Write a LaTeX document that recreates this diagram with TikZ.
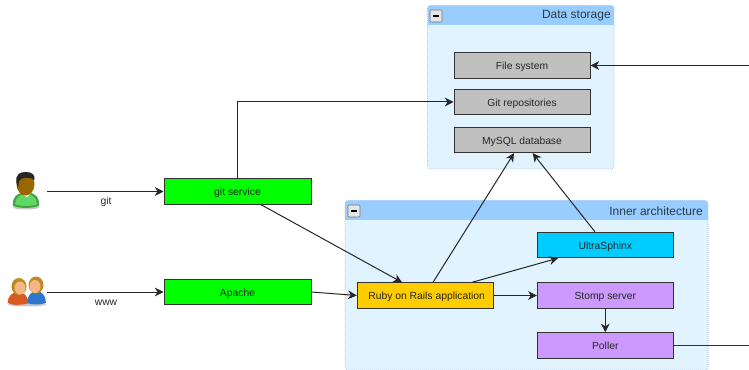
\documentclass[tikz,border=0pt]{standalone}
\usepackage{fontspec}
\setmainfont{Liberation Sans}
\usetikzlibrary{arrows.meta,calc}
\definecolor{panelfill}{HTML}{E1F3FF}
\definecolor{panelhead}{HTML}{99CCFF}
\definecolor{panelline}{HTML}{9FB4CC}
\definecolor{titletext}{HTML}{2A3A4A}
\definecolor{storegrey}{HTML}{C0C0C0}
\definecolor{webgreen}{HTML}{00FF00}
\definecolor{sphinxblue}{HTML}{00CCFF}
\definecolor{queuepurple}{HTML}{CC99FF}
\definecolor{railsorange}{HTML}{FFCC00}
\definecolor{edgeline}{HTML}{333333}
\definecolor{shirtgreen}{HTML}{62D862}
\definecolor{shirtgreendark}{HTML}{3FA53F}
\definecolor{skindark}{HTML}{9A6600}
\definecolor{shirtorange}{HTML}{D85A20}
\definecolor{shirtblue}{HTML}{2C78CC}
\definecolor{hairtan}{HTML}{C08A20}
\definecolor{skinlight}{HTML}{F4B684}
\definecolor{iconshadow}{HTML}{C8C8C8}
\tikzset{
  every node/.style={font=\fontsize{7.75pt}{9pt}\selectfont},
  svc/.style={draw=edgeline,line width=.75pt,minimum width=102pt,minimum height=19pt,inner sep=0pt,text height=6.8pt,text depth=.1pt,text=black!85},
  widesvc/.style={svc,minimum width=110.25pt},
  panelbody/.style={draw=panelline,line width=.5pt,densely dotted,fill=panelfill,rounded corners=2.2pt},
  paneltitle/.style={anchor=east,inner sep=0pt,text=titletext,font=\fontsize{9pt}{11pt}\selectfont},
  conn/.style={draw=black!85,line width=.75pt,-{Stealth[length=6.5pt,width=6.5pt,inset=2pt]}},
  plainconn/.style={draw=black!80,line width=.75pt},
  edgelabel/.style={text=black!85},
  btn/.style={draw=black!55,line width=.4pt,fill=black!10,rounded corners=.6pt}
}
\begin{document}
\begin{tikzpicture}[x=.75pt,y=-.75pt]
\useasboundingbox (0,0) rectangle (749,370);
% Data storage panel
\path[panelbody] (427.5,5.5) rectangle (614,169);
\fill[panelhead,rounded corners=2.2pt] (427.5,5.5) rectangle (614,12);
\fill[panelhead] (427.5,9) rectangle (614,25);
\draw[btn] (430,10) rectangle (442,22);
\draw[black,line width=1pt] (433,16) -- (439,16);
\node[paneltitle] (dstitle) at (611,16) {Data storage};
% Inner architecture panel
\path[panelbody] (345,200.5) rectangle (708,370);
\fill[panelhead,rounded corners=2.2pt] (345,200.5) rectangle (708,207);
\fill[panelhead] (345,204) rectangle (708,220);
\draw[btn] (348,205) rectangle (360,217);
\draw[black,line width=1pt] (351,211) -- (357,211);
\node[paneltitle] (iatitle) at (703,211) {Inner architecture};
% Nodes
\node[svc,fill=storegrey] (fs) at (522,65.5) {File system};
\node[svc,fill=storegrey] (repo) at (522,102) {Git repositories};
\node[svc,fill=storegrey] (mysql) at (522,140) {MySQL database};
\node[widesvc,fill=webgreen] (gitsvc) at (237.5,191.5) {git service};
\node[widesvc,fill=webgreen] (apache) at (237.5,292) {Apache};
\node[svc,fill=railsorange] (rails) at (425.3,295.5) {\hspace*{2pt}Ruby on Rails application};
\node[svc,fill=sphinxblue] (sphinx) at (605.3,245) {UltraSphinx};
\node[svc,fill=queuepurple] (stomp) at (605.3,295.5) {Stomp server};
\node[svc,fill=queuepurple] (poller) at (605.3,345.5) {Poller};
% User icons
\coordinate (devicon) at (47,191.5);
\coordinate (usersicon) at (47,292);
% developer
\fill[iconshadow] (26,207.5) ellipse (13 and 2);
\fill[shirtgreendark] (13,206) .. controls (12,197) and (18,192) .. (26,192) .. controls (34,192) and (40,197) .. (39,206) .. controls (32,208.5) and (20,208.5) .. (13,206) -- cycle;
\fill[shirtgreen] (15,204.5) .. controls (15,198) and (20,194) .. (26,194) .. controls (32,194) and (37,198) .. (37,204.5) .. controls (30,206.5) and (21,206.5) .. (15,204.5) -- cycle;
\fill[white!92!black] (20,192) -- (32,192) -- (27,197.5) -- cycle;
\fill[skindark] (25.5,184) ellipse (9 and 11.5);
\fill[black!85] (16.5,183) .. controls (15,174) and (20,172) .. (26,172) .. controls (32,172) and (35.5,175) .. (34.5,180) .. controls (30,176.5) and (21,177) .. (19,181) -- (18,188) -- cycle;
% two users, left
\fill[iconshadow] (27,304.5) ellipse (19 and 2);
\fill[shirtorange] (7.5,303) .. controls (8,296) and (12,292) .. (18,292) .. controls (24,292) and (28,296) .. (28.5,303) .. controls (22,305.5) and (13,305.5) .. (7.5,303) -- cycle;
\fill[hairtan] (19,286.5) ellipse (7.5 and 8.5);
\fill[skinlight] (20,288) ellipse (5.5 and 6.5);
% two users, right
\fill[shirtblue] (27,303) .. controls (27.5,296) and (31,291) .. (36.5,291) .. controls (42,291) and (46,296) .. (46,303) .. controls (40,305) and (32,305) .. (27,303) -- cycle;
\fill[hairtan] (36,285) ellipse (7.5 and 8.5);
\fill[skinlight] (35,286.5) ellipse (5.5 and 6.5);
% Connectors
\draw[conn] (devicon) -- (gitsvc.west);
\draw[conn] (usersicon) -- (apache.west);
\node[edgelabel] (gitlabel) at (106,202) {git};
\node[edgelabel] (wwwlabel) at (106,303) {www};
\draw[conn] (gitsvc.north) |- (repo.west);
\draw[conn] ($(gitsvc.south)+(23.5,0)$) -- ($(rails.north)+(-23.3,0)$);
\draw[conn] (apache.east) -- (rails.west);
\draw[conn] ($(rails.north)+(7.7,0)$) -- ($(mysql.south)+(-8,0)$);
\draw[conn] ($(sphinx.north)+(-10.3,0)$) -- ($(mysql.south)+(10.7,0)$);
\draw[conn] ($(rails.north)+(46.7,0)$) -- ($(sphinx.south)+(-47.3,0)$);
\draw[conn] (rails.east) -- (stomp.west);
\draw[conn] (stomp.south) -- (poller.north);
\coordinate (fsfar) at (749,65.5);
\coordinate (pollerfar) at (749,345.5);
\draw[conn] (fsfar) -- (fs.east);
\draw[plainconn] (poller.east) -- (pollerfar);
\end{tikzpicture}
\end{document}
